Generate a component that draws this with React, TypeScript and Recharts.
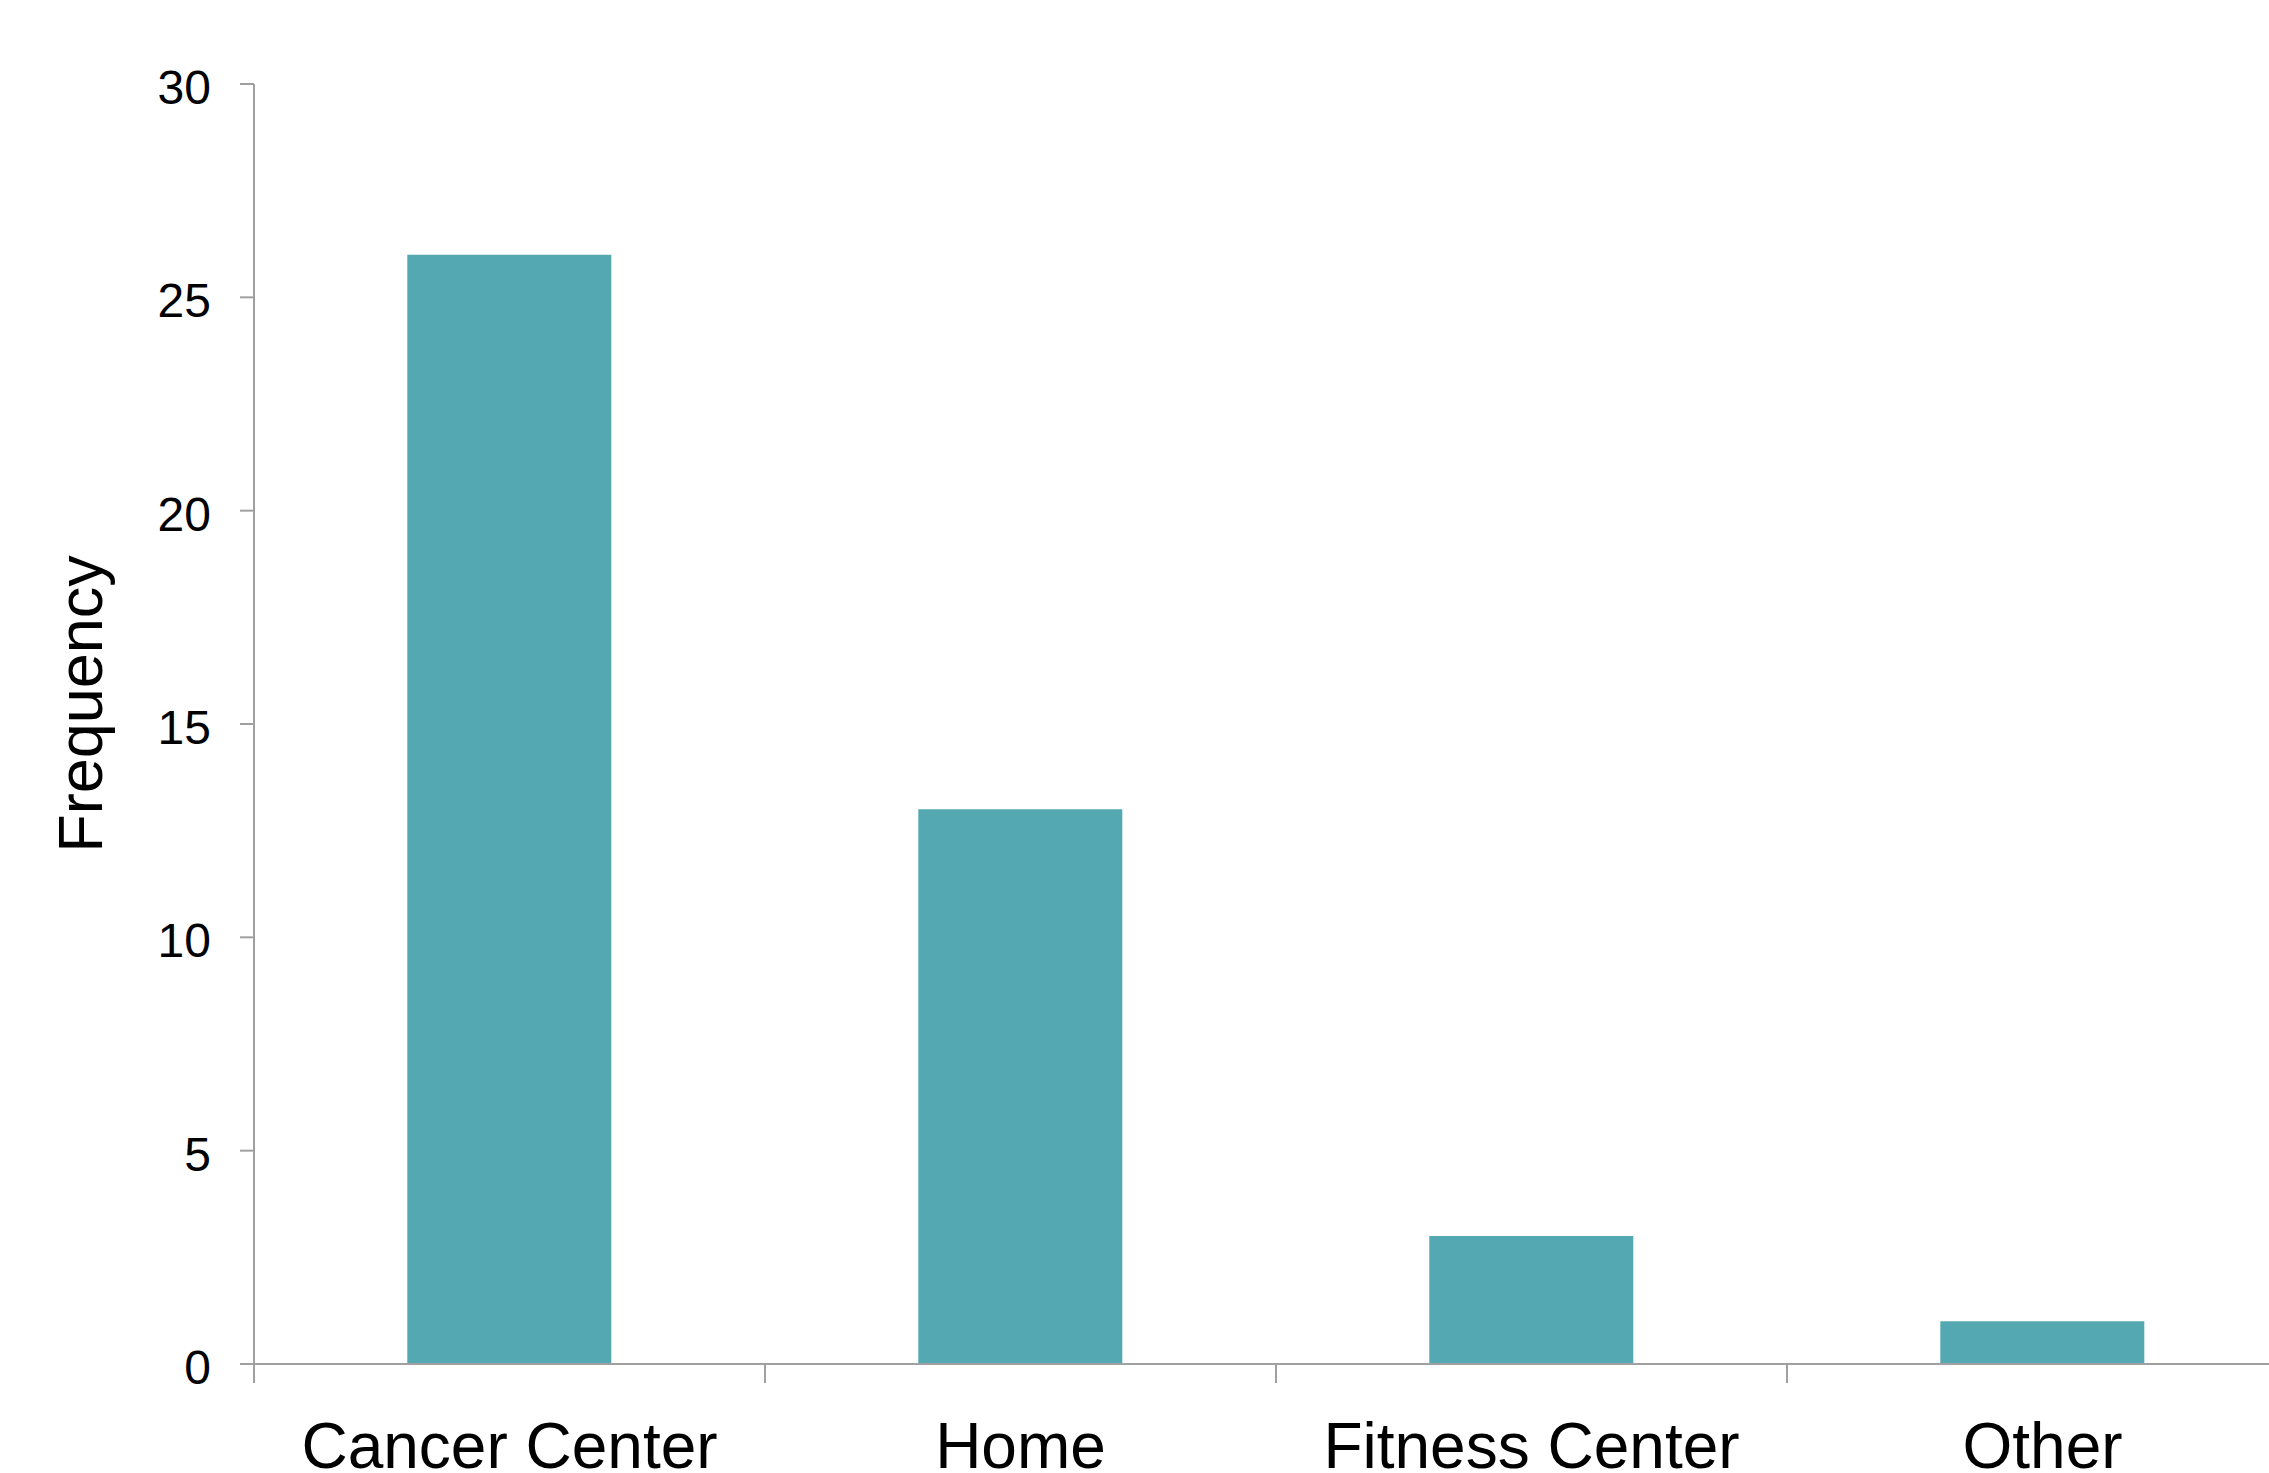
import React from 'react';
import { BarChart, Bar, XAxis, YAxis, Label } from 'recharts';

// locations and counts
const locations = ['Cancer Center', 'Home', 'Fitness Center', 'Other'];
const frequencies = [26, 13, 3, 1];
const yTicks = [0, 5, 10, 15, 20, 25, 30];

const data = locations.map((name, i) => ({ name, count: frequencies[i] }));

const AXIS_COLOR = '#a0a0a0';
const BAR_COLOR = '#54a8b1';
const FONT = '"Liberation Sans", Arial, sans-serif';

const CHART_W = 2298;
const CHART_H = 1473;
const Y_AXIS_W = 254;
const PLOT_W = CHART_W - Y_AXIS_W;

// category label + a tick mark on the left edge of each band
const CategoryTick = (props: any) => {
  const { x, y, payload } = props;
  const half = payload && payload.offset ? payload.offset : PLOT_W / locations.length / 2;
  const axisY = y - 59;
  return (
    <g>
      <line x1={x - half} x2={x - half} y1={axisY} y2={axisY + 19} stroke={AXIS_COLOR} strokeWidth={2} />
      <text x={x} y={y} dy="0.71em" textAnchor="middle" fontSize={64} fill="#000" fontFamily={FONT}>
        {payload.value}
      </text>
    </g>
  );
};

const FrequencyLabel = () => (
  <text
    x={102}
    y={704}
    transform="rotate(-90, 102, 704)"
    textAnchor="middle"
    fontSize={63}
    fill="#000"
    fontFamily={FONT}
  >
    Frequency
  </text>
);

export default function App() {
  return (
    <div
      style={{
        position: 'fixed',
        left: 0,
        top: 0,
        width: 2269,
        height: 1473,
        overflow: 'hidden',
        background: '#fff',
      }}
    >
      <BarChart
        width={CHART_W}
        height={CHART_H}
        data={data}
        margin={{ top: 84, right: 0, bottom: 0, left: 0 }}
        barCategoryGap="30%"
        style={{ fontFamily: FONT }}
      >
        <XAxis
          dataKey="name"
          height={109}
          tickLine={false}
          tickSize={0}
          tickMargin={59}
          axisLine={{ stroke: AXIS_COLOR, strokeWidth: 2 }}
          tick={<CategoryTick />}
          interval={0}
        />
        <YAxis
          width={Y_AXIS_W}
          domain={[0, 30]}
          ticks={yTicks}
          interval={0}
          tickSize={14}
          tickMargin={29}
          axisLine={{ stroke: AXIS_COLOR, strokeWidth: 2 }}
          tickLine={{ stroke: AXIS_COLOR, strokeWidth: 2 }}
          tick={{ fontSize: 48, fill: '#000', fontFamily: FONT, dy: 3 }}
        >
          <Label content={<FrequencyLabel />} />
        </YAxis>
        <Bar dataKey="count" fill={BAR_COLOR} isAnimationActive={false} />
      </BarChart>
    </div>
  );
}
